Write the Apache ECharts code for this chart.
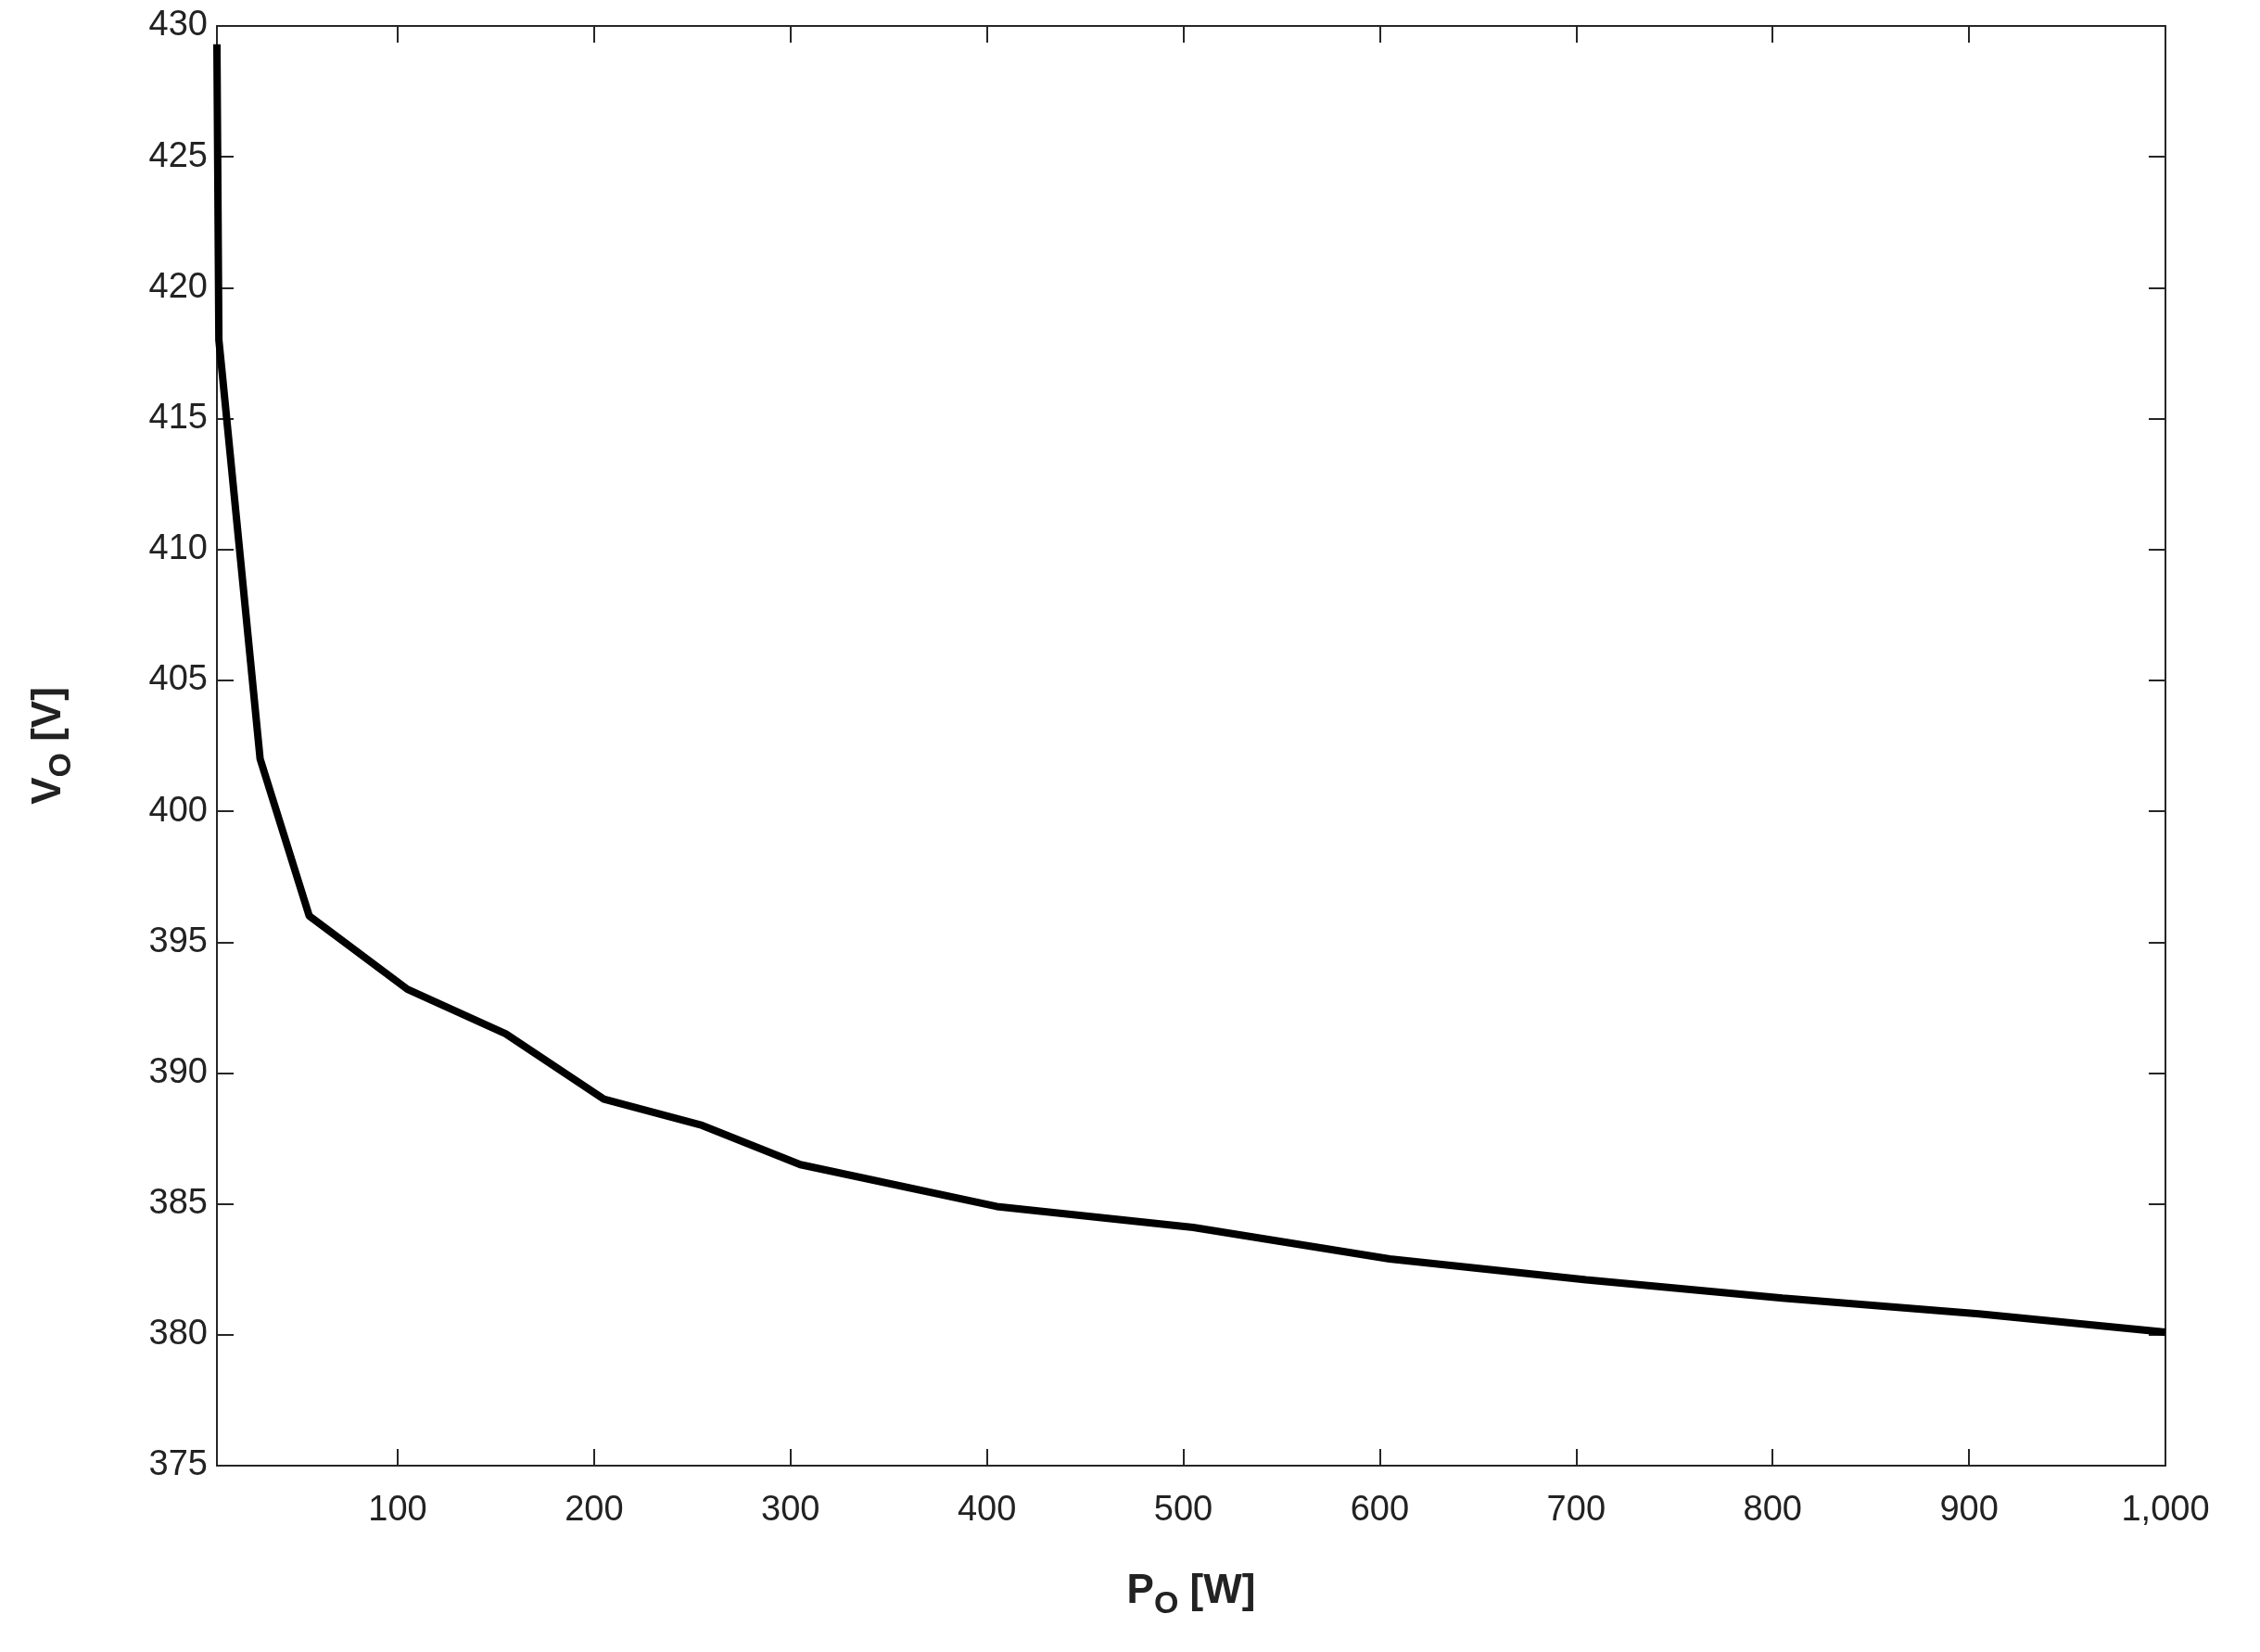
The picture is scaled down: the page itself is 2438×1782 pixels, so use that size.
<!DOCTYPE html>
<html><head><meta charset="utf-8">
<script src="https://cdn.jsdelivr.net/npm/echarts@6/dist/echarts.min.js"></script>
<style>html,body{margin:0;background:#fff}#c{width:2438px;height:1782px}</style>
</head><body><div id="c"></div>
<script>
const powerW = [8, 9, 11, 30, 55, 105, 155, 205, 255, 305, 405, 505, 605, 705, 805, 905, 1000];
const voltageV = [429.3, 418, 416.5, 402, 396, 393.2, 391.5, 389, 388, 386.5, 384.9, 384.1, 382.9, 382.1, 381.4, 380.8, 380.1];
const xTicks = [100, 200, 300, 400, 500, 600, 700, 800, 900, 1000];
const yTicks = [375, 380, 385, 390, 395, 400, 405, 410, 415, 420, 425, 430];

const font = 'Liberation Sans, Arial, sans-serif';
const lbl = {fontSize: 38, color: '#222', fontFamily: font};
const tickIn = {inside: true, length: 18, lineStyle: {color: '#262626', width: 2}};
const line = {show: true, lineStyle: {color: '#262626', width: 2}};
const nameRich = {
  a: {fontSize: 44, fontWeight: 'bold', fontFamily: font, color: '#222'},
  b: {fontSize: 34, fontWeight: 'bold', fontFamily: font, color: '#222', padding: [28, 0, 0, 0]}
};
const chart = echarts.init(document.getElementById('c'));
chart.setOption({
  backgroundColor: '#fff',
  animation: false,
  grid: {left: 234, right: 102, top: 28, bottom: 201},
  xAxis: [
    {type: 'value', min: 8, max: 1000, axisLine: line, splitLine: {show: false},
     axisTick: Object.assign({customValues: xTicks}, tickIn),
     axisLabel: Object.assign({customValues: xTicks, margin: 30}, lbl),
     name: '{a|P}{b|O}{a| [W]}', nameLocation: 'middle', nameGap: 105,
     nameTextStyle: {rich: nameRich}},
    {type: 'value', position: 'top', min: 8, max: 1000, axisLine: line, splitLine: {show: false},
     axisTick: Object.assign({customValues: xTicks}, tickIn), axisLabel: {show: false}}
  ],
  yAxis: [
    {type: 'value', min: 375, max: 430, interval: 5, axisLine: line, splitLine: {show: false},
     axisTick: tickIn, axisLabel: Object.assign({margin: 10}, lbl),
     name: '{a|V}{b|O}{a| [V]}', nameLocation: 'middle', nameGap: 150,
     nameTextStyle: {rich: nameRich}},
    {type: 'value', position: 'right', min: 375, max: 430, interval: 5, axisLine: line,
     splitLine: {show: false}, axisTick: tickIn, axisLabel: {show: false}}
  ],
  series: [{type: 'line', data: powerW.map((p, i) => [p, voltageV[i]]), showSymbol: false,
    lineStyle: {color: '#000', width: 8}}]
});
</script></body></html>
